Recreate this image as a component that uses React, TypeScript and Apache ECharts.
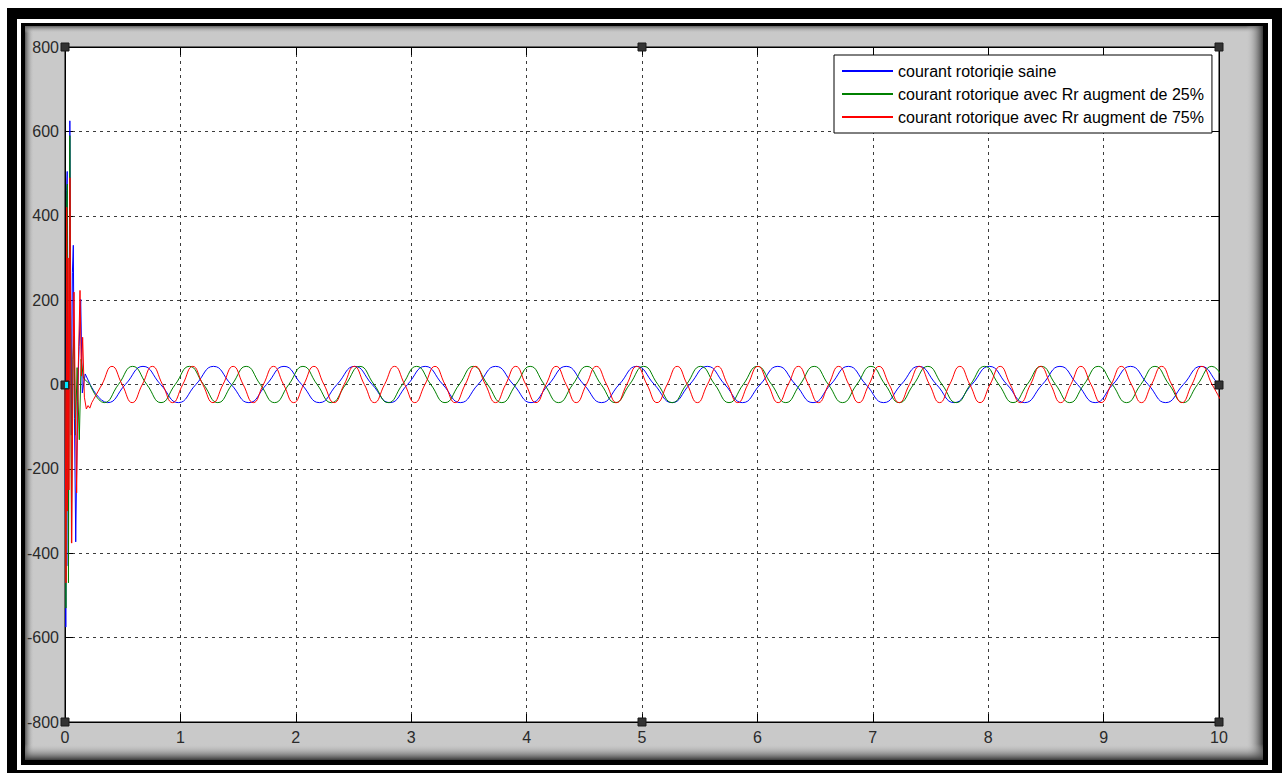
import React, { useEffect, useRef } from "react";
import * as echarts from "echarts";

const FONT = "'Liberation Sans', Arial, Helvetica, sans-serif";

const legendNames = [
  "courant rotoriqie saine",
  "courant rotorique avec Rr augment de 25%",
  "courant rotorique avec Rr augment de 75%",
];
const seriesColors = ["#0000ff", "#008000", "#ff0000"];

const xMin = 0;
const xMax = 10;
const xStep = 1;
const yMin = -800;
const yMax = 800;
const yStep = 200;

// start-up transients (time s, current A)
const blueTransient = [
  [0, 0], [0.007, -575], [0.014, 460], [0.019, 505], [0.028, -430], [0.042, 625],
  [0.055, -120], [0.064, 265], [0.072, 330], [0.082, -80], [0.093, -373], [0.108, -40],
  [0.122, 90], [0.136, 202], [0.150, -20], [0.175, 25], [0.218, 0],
];
const greenTransient = [
  [0, 0], [0.008, -530], [0.015, 440], [0.020, 475], [0.030, -470], [0.042, 590],
  [0.056, -375], [0.068, 60], [0.078, 115], [0.090, -120], [0.105, 40], [0.124, -131],
  [0.140, 60], [0.160, 15], [0.217, 0],
];
const redTransient = [
  [0, 0], [0.009, -470], [0.015, 420], [0.020, -300], [0.027, 300], [0.034, -250],
  [0.043, 490], [0.058, -376], [0.070, 60], [0.078, 219], [0.090, -60], [0.101, -257],
  [0.115, 40], [0.130, 223], [0.142, 20], [0.153, 112], [0.168, -30], [0.185, -58],
  [0.200, -50], [0.215, -56], [0.232, -43],
];

// steady-state oscillation: extremes and zero crossings
const blueSteady = [
  [0.218, 0], [0.370, -43], [0.523, 0], [0.676, 43], [0.829, 0], [0.982, -43], [1.134, 0], [1.287, 43],
  [1.440, 0], [1.593, -43], [1.746, 0], [1.898, 43], [2.051, 0], [2.204, -43], [2.357, 0], [2.510, 43],
  [2.662, 0], [2.815, -43], [2.968, 0], [3.121, 43], [3.274, 0], [3.426, -43], [3.579, 0], [3.732, 43],
  [3.885, 0], [4.038, -43], [4.190, 0], [4.343, 43], [4.496, 0], [4.649, -43], [4.802, 0], [4.954, 43],
  [5.107, 0], [5.260, -43], [5.413, 0], [5.566, 43], [5.718, 0], [5.871, -43], [6.024, 0], [6.177, 43],
  [6.330, 0], [6.482, -43], [6.635, 0], [6.788, 43], [6.941, 0], [7.094, -43], [7.246, 0], [7.399, 43],
  [7.552, 0], [7.705, -43], [7.858, 0], [8.010, 43], [8.163, 0], [8.316, -43], [8.469, 0], [8.622, 43],
  [8.774, 0], [8.927, -43], [9.080, 0], [9.233, 43], [9.386, 0], [9.538, -43], [9.691, 0], [9.844, 43],
  [9.997, 0], [10.150, -43],
];
const greenSteady = [
  [0.217, 0], [0.340, -43], [0.463, 0], [0.586, 43], [0.709, 0], [0.832, -43], [0.955, 0], [1.078, 43],
  [1.201, 0], [1.324, -43], [1.447, 0], [1.570, 43], [1.693, 0], [1.816, -43], [1.939, 0], [2.062, 43],
  [2.185, 0], [2.308, -43], [2.432, 0], [2.555, 43], [2.678, 0], [2.801, -43], [2.924, 0], [3.047, 43],
  [3.170, 0], [3.293, -43], [3.416, 0], [3.539, 43], [3.662, 0], [3.785, -43], [3.908, 0], [4.031, 43],
  [4.154, 0], [4.277, -43], [4.400, 0], [4.523, 43], [4.646, 0], [4.769, -43], [4.892, 0], [5.015, 43],
  [5.138, 0], [5.262, -43], [5.385, 0], [5.508, 43], [5.631, 0], [5.754, -43], [5.877, 0], [6.000, 43],
  [6.123, 0], [6.246, -43], [6.369, 0], [6.492, 43], [6.615, 0], [6.738, -43], [6.861, 0], [6.984, 43],
  [7.107, 0], [7.230, -43], [7.353, 0], [7.477, 43], [7.600, 0], [7.723, -43], [7.846, 0], [7.969, 43],
  [8.092, 0], [8.215, -43], [8.338, 0], [8.461, 43], [8.584, 0], [8.707, -43], [8.830, 0], [8.953, 43],
  [9.076, 0], [9.199, -43], [9.322, 0], [9.445, 43], [9.568, 0], [9.691, -43], [9.814, 0], [9.938, 43],
  [10.061, 0],
];
const redSteady = [
  [0.232, -43], [0.320, 0], [0.407, 43], [0.495, 0], [0.582, -43], [0.670, 0], [0.757, 43], [0.845, 0],
  [0.932, -43], [1.020, 0], [1.107, 43], [1.194, 0], [1.282, -43], [1.369, 0], [1.457, 43], [1.544, 0],
  [1.632, -43], [1.719, 0], [1.807, 43], [1.894, 0], [1.982, -43], [2.069, 0], [2.157, 43], [2.244, 0],
  [2.332, -43], [2.419, 0], [2.506, 43], [2.594, 0], [2.681, -43], [2.769, 0], [2.856, 43], [2.944, 0],
  [3.031, -43], [3.119, 0], [3.206, 43], [3.293, 0], [3.381, -43], [3.468, 0], [3.556, 43], [3.643, 0],
  [3.731, -43], [3.818, 0], [3.906, 43], [3.993, 0], [4.081, -43], [4.168, 0], [4.256, 43], [4.343, 0],
  [4.430, -43], [4.518, 0], [4.605, 43], [4.693, 0], [4.780, -43], [4.868, 0], [4.955, 43], [5.043, 0],
  [5.130, -43], [5.218, 0], [5.305, 43], [5.392, 0], [5.480, -43], [5.567, 0], [5.655, 43], [5.742, 0],
  [5.830, -43], [5.917, 0], [6.005, 43], [6.092, 0], [6.180, -43], [6.267, 0], [6.355, 43], [6.442, 0],
  [6.529, -43], [6.617, 0], [6.704, 43], [6.792, 0], [6.879, -43], [6.967, 0], [7.054, 43], [7.142, 0],
  [7.229, -43], [7.317, 0], [7.404, 43], [7.491, 0], [7.579, -43], [7.666, 0], [7.754, 43], [7.841, 0],
  [7.929, -43], [8.016, 0], [8.104, 43], [8.191, 0], [8.279, -43], [8.366, 0], [8.453, 43], [8.541, 0],
  [8.628, -43], [8.716, 0], [8.803, 43], [8.891, 0], [8.978, -43], [9.066, 0], [9.153, 43], [9.241, 0],
  [9.328, -43], [9.415, 0], [9.503, 43], [9.590, 0], [9.678, -43], [9.765, 0], [9.853, 43], [9.940, 0],
  [10.028, -43],
];

const transients = [blueTransient, greenTransient, redTransient];
const steadies = [blueSteady, greenSteady, redSteady];

function lin(x2: number, y2: number, c0: string, c1: string) {
  return {
    type: "linear", x: 0, y: 0, x2, y2,
    colorStops: [{ offset: 0, color: c0 }, { offset: 1, color: c1 }],
  };
}

export default function App() {
  const ref = useRef<HTMLDivElement>(null);
  useEffect(() => {
    if (!ref.current) return;
    const chart = echarts.init(ref.current, undefined, { renderer: "svg" });

    const series: any[] = [];
    for (let i = 0; i < 3; i++) {
      const base = {
        name: legendNames[i],
        type: "line",
        symbol: "none",
        showSymbol: false,
        silent: true,
        clip: true,
        lineStyle: { color: seriesColors[i], width: 1 },
        itemStyle: { color: seriesColors[i] },
        emphasis: { disabled: true },
        z: 2 + i,
      };
      series.push({ ...base, data: transients[i], smooth: false });
      series.push({ ...base, data: steadies[i], smooth: 0.5 });
    }

    const tickLabel = { fontFamily: FONT, fontSize: 16, color: "#2a2a2a" };
    const gridLine = { show: true, lineStyle: { type: [3, 4], color: "#3c3c3c", width: 1 } };
    const axLine = { show: true, onZero: false, lineStyle: { color: "#000", width: 1 } };
    const axTick = { show: true, inside: true, length: 8, lineStyle: { color: "#000", width: 1 } };

    chart.setOption({
      animation: false,
      grid: {
        left: 65, right: 63, top: 47, bottom: 51,
        show: true, backgroundColor: "#ffffff", borderColor: "#000", borderWidth: 1,
      },
      xAxis: [
        {
          type: "value", min: xMin, max: xMax, interval: xStep, position: "bottom",
          axisLine: axLine, axisTick: axTick,
          axisLabel: { ...tickLabel, margin: 7 },
          splitLine: gridLine,
        },
        {
          type: "value", min: xMin, max: xMax, interval: xStep, position: "top",
          axisLine: axLine, axisTick: axTick, axisLabel: { show: false }, splitLine: { show: false },
        },
      ],
      yAxis: [
        {
          type: "value", min: yMin, max: yMax, interval: yStep, position: "left",
          axisLine: axLine, axisTick: axTick,
          axisLabel: { ...tickLabel, margin: 6 },
          splitLine: gridLine,
        },
        {
          type: "value", min: yMin, max: yMax, interval: yStep, position: "right",
          axisLine: axLine, axisTick: axTick, axisLabel: { show: false }, splitLine: { show: false },
        },
      ],
      legend: {
        left: 834, top: 55, orient: "vertical",
        padding: [8, 8, 8, 8], itemGap: 7, itemWidth: 51, itemHeight: 2,
        icon: "rect",
        backgroundColor: "#ffffff", borderColor: "#000", borderWidth: 1, borderRadius: 0,
        selectedMode: false,
        textStyle: { fontFamily: FONT, fontSize: 16, lineHeight: 16, color: "#000" },
        data: legendNames.map((n, i) => ({
          name: n,
          icon: "rect",
          itemStyle: { color: seriesColors[i] },
        })),
      },
      series,
    });

    // frame decorations
    const frame: any[] = [
      { id: "f0", type: "rect", z: -20, shape: { x: 7, y: 8, width: 1275, height: 765 }, style: { fill: "#000" } },
      { id: "f1", type: "rect", z: -19, shape: { x: 17, y: 19, width: 1255, height: 751 }, style: { fill: "#fff" } },
      { id: "f2", type: "rect", z: -18, shape: { x: 21, y: 23, width: 1247, height: 742 }, style: { fill: "#000" } },
      { id: "f3", type: "rect", z: -17, shape: { x: 25, y: 26, width: 1238, height: 734 }, style: { fill: "#c9c9c9" } },
      { id: "f4", type: "rect", z: -16, shape: { x: 25, y: 26, width: 9, height: 734 }, style: { fill: lin(1, 0, "#555555", "rgba(201,201,201,0)") } },
      { id: "f5", type: "rect", z: -16, shape: { x: 25, y: 26, width: 1238, height: 7 }, style: { fill: lin(0, 1, "#606060", "rgba(201,201,201,0)") } },
      { id: "f6", type: "rect", z: -16, shape: { x: 1246, y: 26, width: 17, height: 734 }, style: { fill: lin(1, 0, "rgba(201,201,201,0)", "#3a3a3a") } },
      { id: "f7", type: "rect", z: -16, shape: { x: 25, y: 744, width: 1238, height: 16 }, style: { fill: lin(0, 1, "rgba(201,201,201,0)", "#3a3a3a") } },
    ];
    const handleSpots = [
      [xMin, yMax], [(xMin + xMax) / 2, yMax], [xMax, yMax],
      [xMin, 0], [xMax, 0],
      [xMin, yMin], [(xMin + xMax) / 2, yMin], [xMax, yMin],
    ];
    const handles: any[] = [];
    handleSpots.forEach((p, i) => {
      const px = chart.convertToPixel({ gridIndex: 0 } as any, p) as number[];
      if (!px) return;
      handles.push({
        id: "h" + i, type: "rect", z: 100,
        shape: { x: Math.round(px[0]) - 4, y: Math.round(px[1]) - 4, width: 8, height: 8 },
        style: { fill: "#333333", stroke: "#1a1a1a", lineWidth: 1 },
      });
      if (i === 3) {
        handles.push({
          id: "hc", type: "rect", z: 101,
          shape: { x: Math.round(px[0]), y: Math.round(px[1]) - 3, width: 3, height: 6 },
          style: { fill: "#00e5ff" },
        });
      }
    });
    chart.setOption({ graphic: [...frame, ...handles] });

    return () => chart.dispose();
  }, []);

  return (
    <div
      ref={ref}
      style={{ position: "fixed", left: 0, top: 0, width: 1282, height: 773, background: "#fff" }}
    />
  );
}
